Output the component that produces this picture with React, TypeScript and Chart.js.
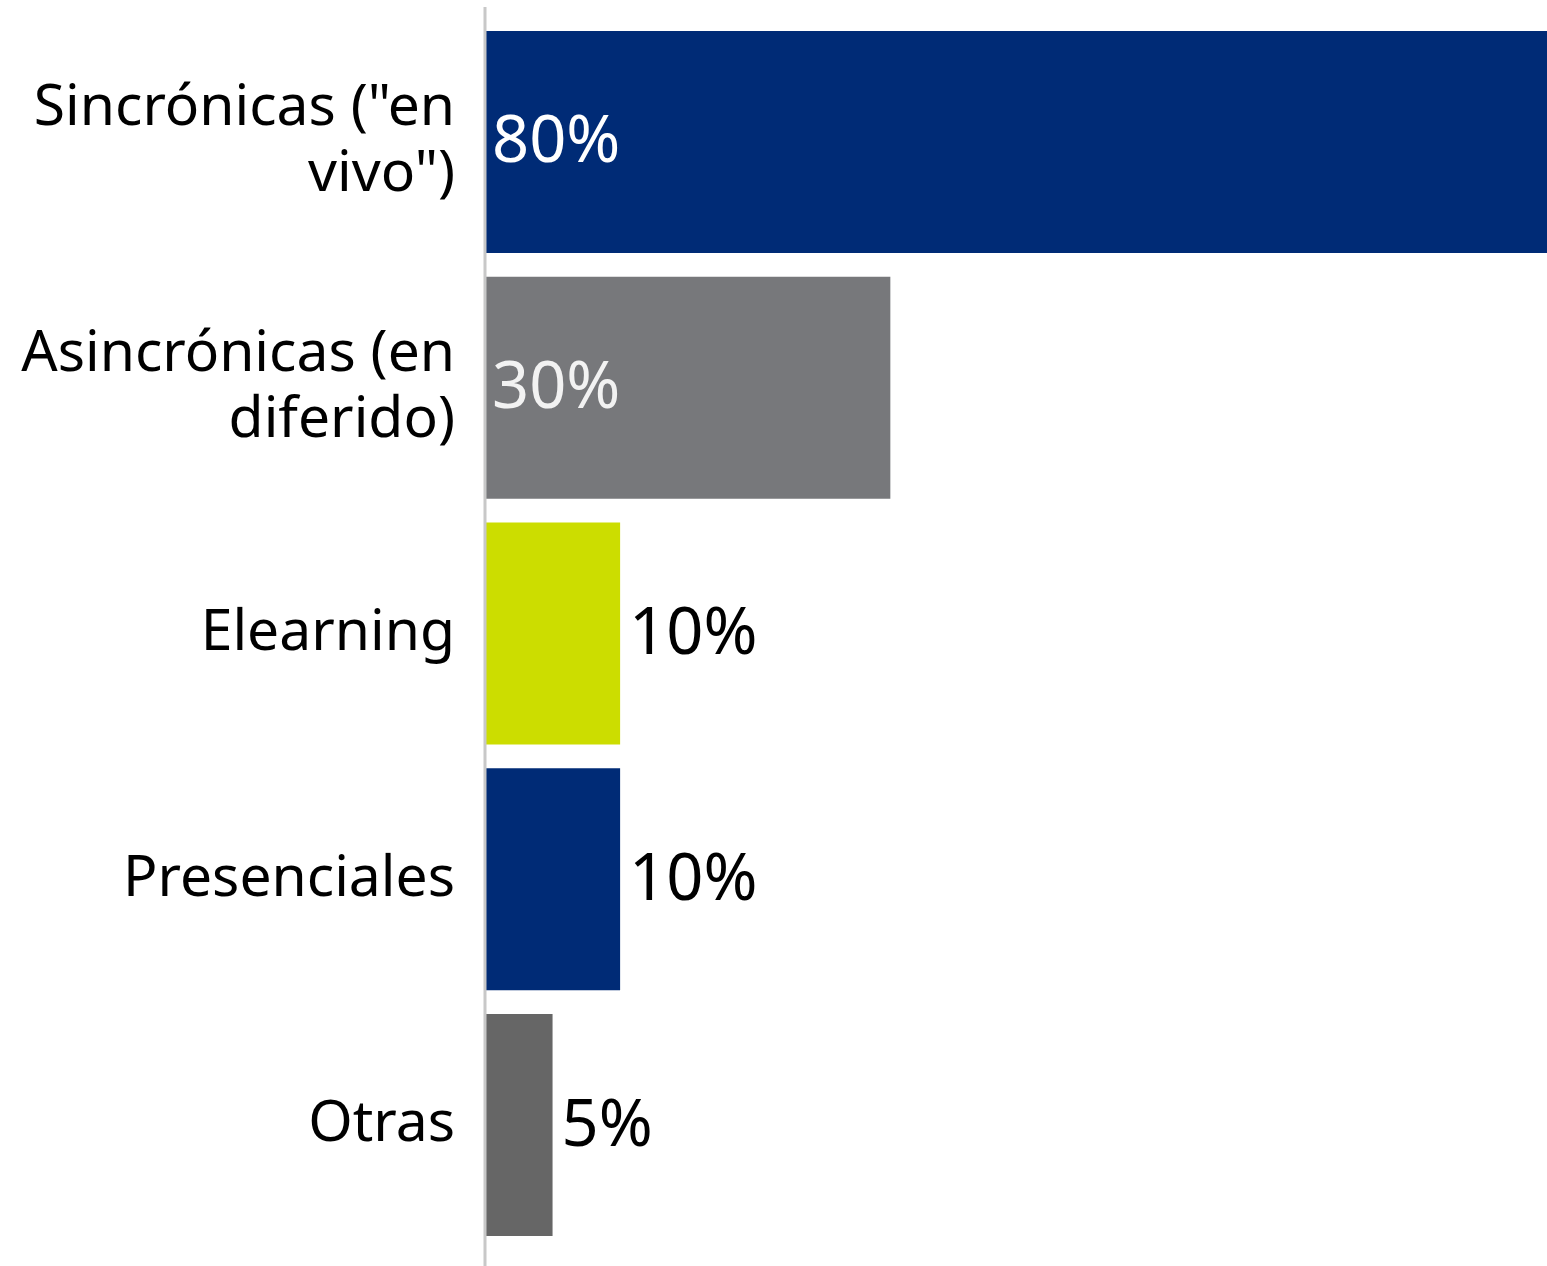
import React, { useEffect, useRef } from "react";
import { Chart, registerables } from "chart.js";

Chart.register(...registerables);

const categories: (string | string[])[] = [
  ['Sincrónicas ("en', 'vivo")'],
  ["Asincrónicas (en", "diferido)"],
  "Elearning",
  "Presenciales",
  "Otras",
];
const values = [80, 30, 10, 10, 5];
const valueLabels = ["80%", "30%", "10%", "10%", "5%"];
const barColors = ["#002B76", "#77787B", "#CCDD00", "#002B76", "#666666"];
const labelInside = [true, true, false, false, false];

const FONT = "'Noto Sans', 'Open Sans', sans-serif";

const valueLabelPlugin = {
  id: "valueLabels",
  afterDatasetsDraw(chart: any) {
    const ctx = chart.ctx;
    const meta = chart.getDatasetMeta(0);
    const area = chart.chartArea;
    ctx.save();
    // axis line
    ctx.strokeStyle = "#C8C8C8";
    ctx.lineWidth = 3;
    ctx.beginPath();
    ctx.moveTo(area.left, area.top - 12);
    ctx.lineTo(area.left, area.bottom + 18);
    ctx.stroke();

    ctx.font = `65px ${FONT}`;
    ctx.textBaseline = "middle";
    ctx.textAlign = "left";
    meta.data.forEach((bar: any, i: number) => {
      const end = Math.min(bar.x, area.right);
      if (labelInside[i]) {
        ctx.fillStyle = i === 1 ? "#F2F2F2" : "#FFFFFF";
        ctx.fillText(valueLabels[i], area.left + 7, bar.y + 2);
      } else {
        ctx.fillStyle = "#000000";
        ctx.fillText(valueLabels[i], end + 9, bar.y + 2);
      }
    });
    ctx.restore();
  },
};

export default function App() {
  const ref = useRef<HTMLCanvasElement>(null);
  useEffect(() => {
    document.body.style.margin = "0";
    const chart = new Chart(ref.current!, {
      type: "bar",
      data: {
        labels: categories,
        datasets: [
          {
            data: values,
            backgroundColor: barColors,
            borderWidth: 0,
            barPercentage: 0.903,
            categoryPercentage: 1,
          },
        ],
      },
      options: {
        indexAxis: "y",
        animation: false,
        responsive: false,
        maintainAspectRatio: false,
        layout: { padding: { top: 19, bottom: 18, left: 0, right: 0 } },
        plugins: { legend: { display: false }, tooltip: { enabled: false } },
        scales: {
          x: { display: false, min: 0, max: 78.6 },
          y: {
            afterFit(scale: any) {
              scale.width = 485;
              scale.paddingTop = 0;
              scale.paddingBottom = 0;
            },
            grid: { display: false, drawTicks: false },
            border: { display: false },
            ticks: {
              color: "#000000",
              padding: 30,
              font: { family: FONT, size: 57, lineHeight: 1.17 },
            },
          },
        },
      },
      plugins: [valueLabelPlugin],
    });
    return () => chart.destroy();
  }, []);
  return <canvas ref={ref} width={1547} height={1266} style={{ display: "block" }} />;
}
